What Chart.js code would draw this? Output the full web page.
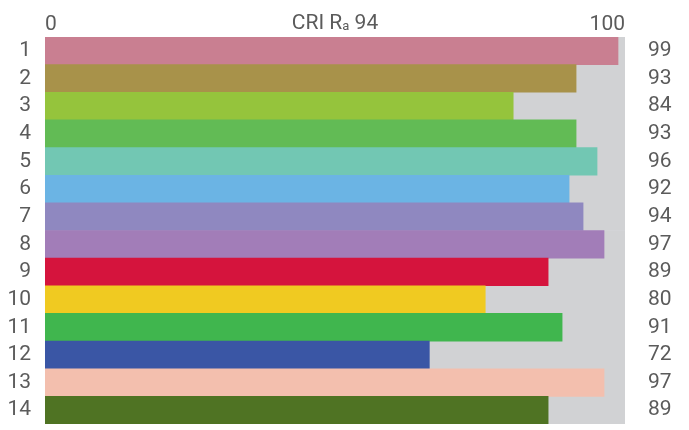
<!DOCTYPE html>
<html>
<head>
<meta charset="utf-8">
<style>
  html, body { margin: 0; padding: 0; background: #fff; overflow: hidden; }
  canvas { display: block; }
</style>
<script src="https://cdn.jsdelivr.net/npm/chart.js@4/dist/chart.umd.min.js"></script>
</head>
<body>
<canvas id="cri" width="689" height="430" style="width:689px;height:430px"></canvas>
<script>
const samples = ['1', '2', '3', '4', '5', '6', '7', '8', '9', '10', '11', '12', '13', '14'];
const riValues = [99, 93, 84, 93, 96, 92, 94, 97, 89, 80, 91, 72, 97, 89];
const fullScale = [100, 100, 100, 100, 100, 100, 100, 100, 100, 100, 100, 100, 100, 100];
const barColors = ['#c97f91', '#a8924a', '#95c43c', '#62bb55', '#72c7b3', '#6bb4e4', '#8f88c0',
                   '#a27db8', '#d5143d', '#f0ca21', '#40b64e', '#3a56a5', '#f3bfae', '#4f7323'];
const topTicks = ['0', '100'];
const raValue = 94;

const FONT = '"Liberation Sans Narrow", "Roboto", sans-serif';
const TXT = '#5b5b5b';

// draws "CRI Ra 94" with a subscript a above the plot
const titlePlugin = {
    id: 'criTitle',
    afterDraw(chart) {
        const c = chart.ctx;
        const area = chart.chartArea;
        const big = '21px ' + FONT, small = '13px ' + FONT;
        c.save();
        c.fillStyle = TXT;
        c.textBaseline = 'alphabetic';
        c.font = big;
        const w1 = c.measureText('CRI R').width;
        const w3 = c.measureText(' ' + raValue).width;
        c.font = small;
        const w2 = c.measureText('a').width;
        let x = (area.left + area.right) / 2 - (w1 + w2 + w3) / 2;
        const y = 29;
        c.font = big;
        c.fillText('CRI R', x, y);
        x += w1;
        c.font = small;
        c.fillText('a', x, y + 1);
        x += w2;
        c.font = big;
        c.fillText(' ' + raValue, x, y);
        c.restore();
    }
};

// side axes: fixed width, no extra end padding
function sideFit(width) {
    return function (axis) {
        axis.width = width;
        axis.paddingTop = 0;
        axis.paddingBottom = 0;
    };
}

new Chart(document.getElementById('cri'), {
    type: 'bar',
    data: {
        labels: samples,
        datasets: [{
            data: riValues,
            backgroundColor: barColors,
            barPercentage: 1,
            categoryPercentage: 1,
            grouped: false,
            order: 1
        }, {
            data: fullScale,
            backgroundColor: '#d1d2d4',
            barPercentage: 1,
            categoryPercentage: 1,
            grouped: false,
            order: 2
        }]
    },
    options: {
        indexAxis: 'y',
        responsive: false,
        animation: false,
        layout: { padding: { bottom: 6 } },
        plugins: { legend: { display: false }, tooltip: { enabled: false } },
        scales: {
            x: {
                position: 'top',
                min: 17,
                max: 100,
                grid: { display: false, drawTicks: false, tickLength: 0 },
                border: { display: false },
                afterBuildTicks(axis) { axis.ticks = [{ value: 17 }, { value: 100 }]; },
                afterFit(axis) { axis.height = 37; },
                ticks: {
                    align: 'inner',
                    padding: 0,
                    color: TXT,
                    font: { family: FONT, size: 21 },
                    callback: (v, i) => topTicks[i]
                }
            },
            y: {
                position: 'left',
                grid: { display: false, drawTicks: false, tickLength: 0 },
                border: { display: false },
                afterFit: sideFit(45),
                ticks: { autoSkip: false, color: TXT, padding: 14, font: { family: FONT, size: 21 } }
            },
            y2: {
                position: 'right',
                type: 'category',
                labels: riValues.map(String),
                grid: { display: false, drawTicks: false, tickLength: 0 },
                border: { display: false },
                afterFit: sideFit(64),
                ticks: { autoSkip: false, color: TXT, padding: 23, font: { family: FONT, size: 21 } }
            }
        }
    },
    plugins: [titlePlugin]
});
</script>
</body>
</html>
